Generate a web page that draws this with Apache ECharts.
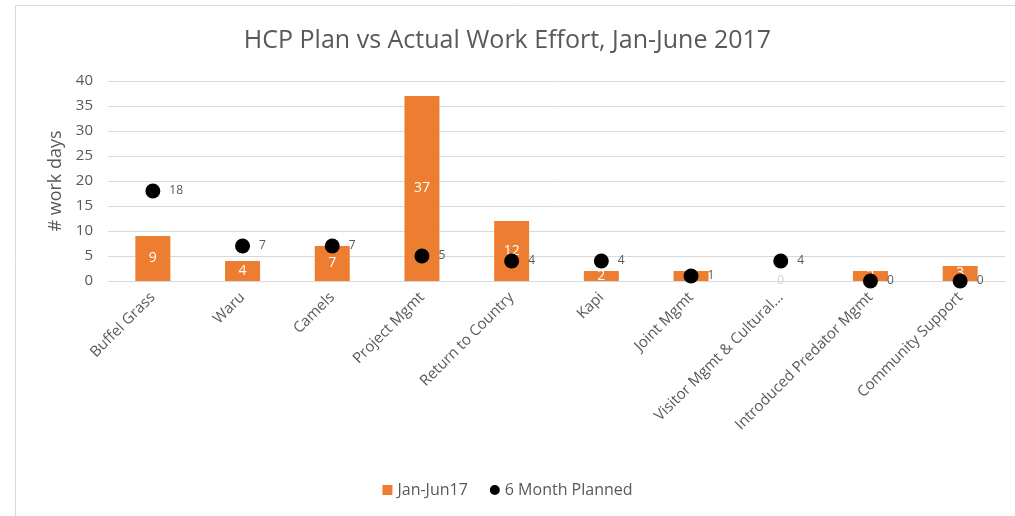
<!DOCTYPE html>
<html>
<head>
<meta charset="utf-8">
<script src="https://cdn.jsdelivr.net/npm/echarts@6/dist/echarts.min.js"></script>
<style>html,body{margin:0;padding:0;background:#fff}#c{width:1015px;height:516px}</style>
</head>
<body>
<div id="c"></div>
<script>
const categories = ['Buffel Grass','Waru','Camels','Project Mgmt','Return to Country','Kapi','Joint Mgmt','Visitor Mgmt & Cultural...','Introduced Predator Mgmt','Community Support'];
const actualValues = [9, 4, 7, 37, 12, 2, 2, 0, 2, 3];
const plannedValues = [18, 7, 7, 5, 4, 4, 1, 4, 0, 0];
const yTicks = [0, 5, 10, 15, 20, 25, 30, 35, 40];

const chart = echarts.init(document.getElementById('c'));
const font = '"Open Sans", "Noto Sans", sans-serif';
chart.setOption({
  animation: false,
  backgroundColor: '#fff',
  graphic: [{
    type: 'rect', left: 13, top: 3, shape: { width: 1100, height: 600 },
    style: { fill: 'none', stroke: '#d9d9d9', lineWidth: 1 }, silent: true, z: -1
  }],
  title: {
    text: 'HCP Plan vs Actual Work Effort, Jan-June 2017',
    left: 'center', top: 23,
    textStyle: { fontFamily: font, fontSize: 25, fontWeight: 'normal', color: '#595959' }
  },
  legend: {
    bottom: 13, left: 'center', itemGap: 22, itemWidth: 10, itemHeight: 10,
    textStyle: { fontFamily: font, fontSize: 16, color: '#595959' },
    data: [
      { name: 'Jan-Jun17', icon: 'rect' },
      { name: '6 Month Planned', icon: 'circle' }
    ]
  },
  grid: { left: 108, right: 10, top: 81, bottom: 235, containLabel: false },
  xAxis: {
    type: 'category', data: categories,
    axisLine: { show: true, lineStyle: { color: '#d9d9d9' } },
    axisTick: { show: false },
    axisLabel: { rotate: 45, interval: 0, fontFamily: font, fontSize: 15, color: '#595959', margin: 14 }
  },
  yAxis: {
    type: 'value', min: yTicks[0], max: yTicks[yTicks.length - 1], interval: 5,
    name: '# work days', nameLocation: 'middle', nameGap: 42, nameRotate: 90,
    nameTextStyle: { fontFamily: font, fontSize: 18, color: '#595959' },
    axisLine: { show: false }, axisTick: { show: false },
    axisLabel: { fontFamily: font, fontSize: 15, color: '#595959', margin: 15 },
    splitLine: { lineStyle: { color: '#d9d9d9', width: 1 } }
  },
  series: [
    {
      name: 'Jan-Jun17', type: 'bar', data: actualValues, barWidth: 35,
      itemStyle: { color: '#ED7D31' },
      label: { show: true, position: 'inside', color: '#fff', fontFamily: font, fontSize: 14,
        formatter: p => p.value === 0 ? '' : p.value }
    },
    {
      name: 'Jan-Jun17 zero', type: 'bar', data: actualValues.map(v => v === 0 ? 0 : null),
      barGap: '-100%', barWidth: 35, itemStyle: { color: 'transparent' },
      label: { show: true, position: 'inside', color: '#d0d0d0', fontFamily: font, fontSize: 12 },
      tooltip: { show: false }
    },
    {
      name: '6 Month Planned', type: 'scatter', data: plannedValues, symbolSize: 15,
      itemStyle: { color: '#000', opacity: 1 }, z: 5,
      label: { show: true, position: 'right', distance: 9, color: '#595959', fontFamily: font, fontSize: 12 }
    }
  ]
});
</script>
</body>
</html>
